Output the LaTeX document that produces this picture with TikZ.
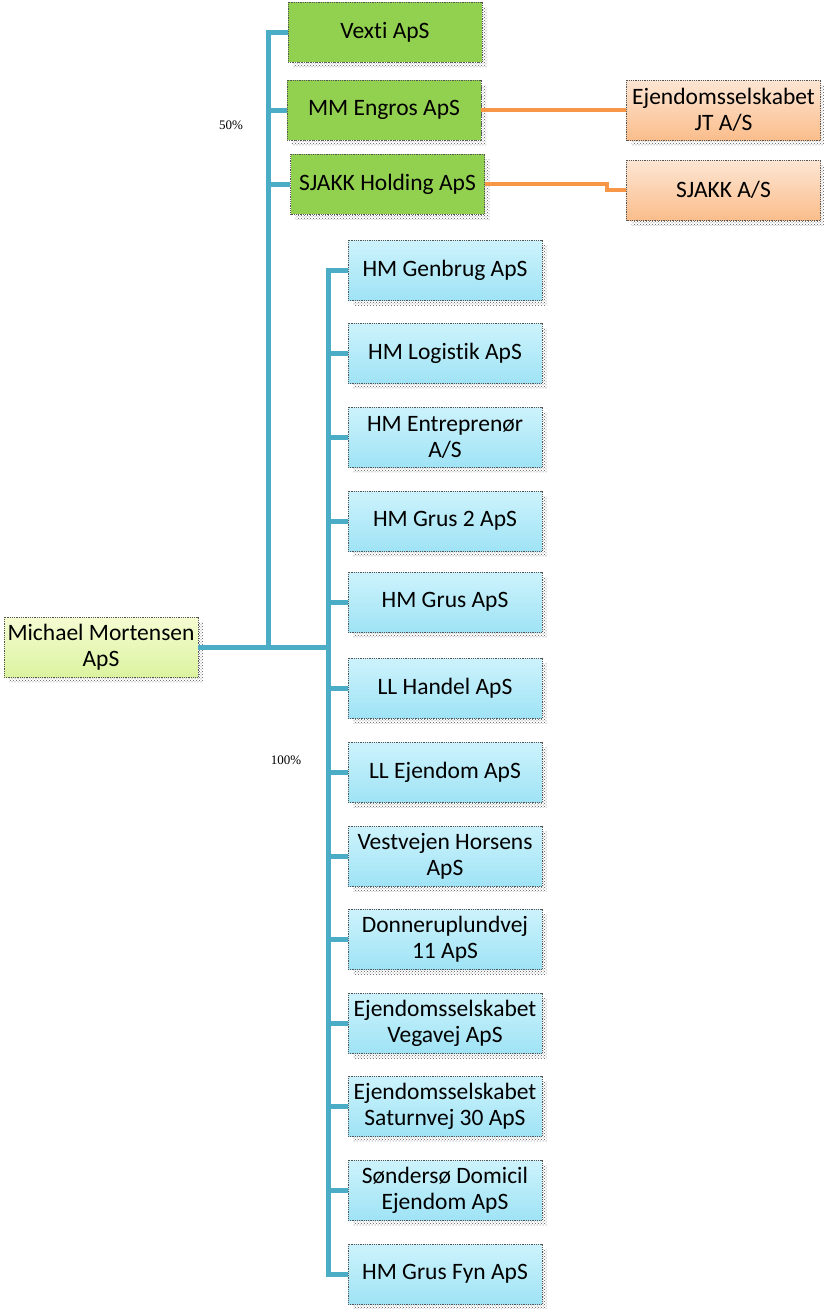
\documentclass[tikz,border=0pt]{standalone}
\usepackage{fontspec}
\setmainfont{Carlito}[Ligatures={NoCommon}]
\newfontfamily\labfont{Liberation Serif}
\usetikzlibrary{shadows,patterns}
\definecolor{lineblue}{HTML}{4BACC6}
\definecolor{lineorange}{HTML}{F79646}
\definecolor{boxgreen}{HTML}{92D050}
\definecolor{bluetop}{HTML}{CDF3FC}
\definecolor{bluebot}{HTML}{9FE3F5}
\definecolor{orangetop}{HTML}{FDE6D4}
\definecolor{orangebot}{HTML}{FBBD8B}
\definecolor{roottop}{HTML}{F5FCD2}
\definecolor{rootbot}{HTML}{DCF3A0}
\definecolor{boxedge}{HTML}{555555}
\tikzset{
  basebox/.style={draw=boxedge, densely dotted, line width=0.8pt,
    minimum width=194pt, minimum height=60pt, inner sep=0pt,
    align=center, font=\fontsize{23.5}{26}\selectfont,
    general shadow={shadow xshift=5pt, shadow yshift=-5pt, pattern=crosshatch dots, pattern color=black!65}},
  greenbox/.style={basebox, fill=boxgreen},
  bluebox/.style={basebox, top color=bluetop, bottom color=bluebot},
  orangebox/.style={basebox, top color=orangetop, bottom color=orangebot},
  rootbox/.style={basebox, top color=roottop, bottom color=rootbot},
  bline/.style={draw=lineblue, line width=5pt},
  oline/.style={draw=lineorange, line width=3.5pt},
  pct/.style={font=\labfont\fontsize{13}{15}\selectfont}
}
\begin{document}
\begin{tikzpicture}[x=1pt,y=-1pt]
\useasboundingbox (0,0) rectangle (823,1309);
% nodes
\node[rootbox] (root) at (101,647) {Michael Mortensen\\ApS};
\node[greenbox] (vexti) at (385,32) {Vexti ApS};
\node[greenbox] (mm) at (384,110) {MM Engros ApS};
\node[greenbox] (sh) at (387.5,184) {SJAKK Holding ApS};
\node[orangebox] (jt) at (723.5,110) {Ejendomsselskabet\\JT A/S};
\node[orangebox] (sj) at (723.5,190) {SJAKK A/S};
\node[bluebox] (b1) at (445,270) {HM Genbrug ApS};
\node[bluebox] (b2) at (445,353) {HM Logistik ApS};
\node[bluebox] (b3) at (445,437) {HM Entreprenør\\A/S};
\node[bluebox] (b4) at (445,521) {HM Grus 2 ApS};
\node[bluebox] (b5) at (445,602) {HM Grus ApS};
\node[bluebox] (b6) at (445,688) {LL Handel ApS};
\node[bluebox] (b7) at (445,772) {LL Ejendom ApS};
\node[bluebox] (b8) at (445,856) {Vestvejen Horsens\\ApS};
\node[bluebox] (b9) at (445,939) {Donneruplundvej\\11 ApS};
\node[bluebox] (b10) at (445,1023) {Ejendomsselskabet\\Vegavej ApS};
\node[bluebox] (b11) at (445,1106) {Ejendomsselskabet\\Saturnvej 30 ApS};
\node[bluebox] (b12) at (445,1190) {Søndersø Domicil\\Ejendom ApS};
\node[bluebox] (b13) at (445,1274) {HM Grus Fyn ApS};
% labels
\node[pct] (p50) at (231,125) {50\%};
\node[pct] (p100) at (286,760) {100\%};
% junctions
\coordinate (j1) at (268,647);
\coordinate (j2) at (328,647);
\draw[bline] (root.east) -- (j2);
\foreach \n in {vexti,mm,sh} {\draw[bline] (j1) |- (\n.west);}
\foreach \n in {b1,b2,b3,b4,b5,b6,b7,b8,b9,b10,b11,b12,b13} {\draw[bline] (j2) |- (\n.west);}
\draw[oline] (mm.east) -- (jt.west);
\coordinate (bend) at (607,184);
\draw[oline] (sh.east) -- (bend) |- (sj.west);
\end{tikzpicture}
\end{document}
